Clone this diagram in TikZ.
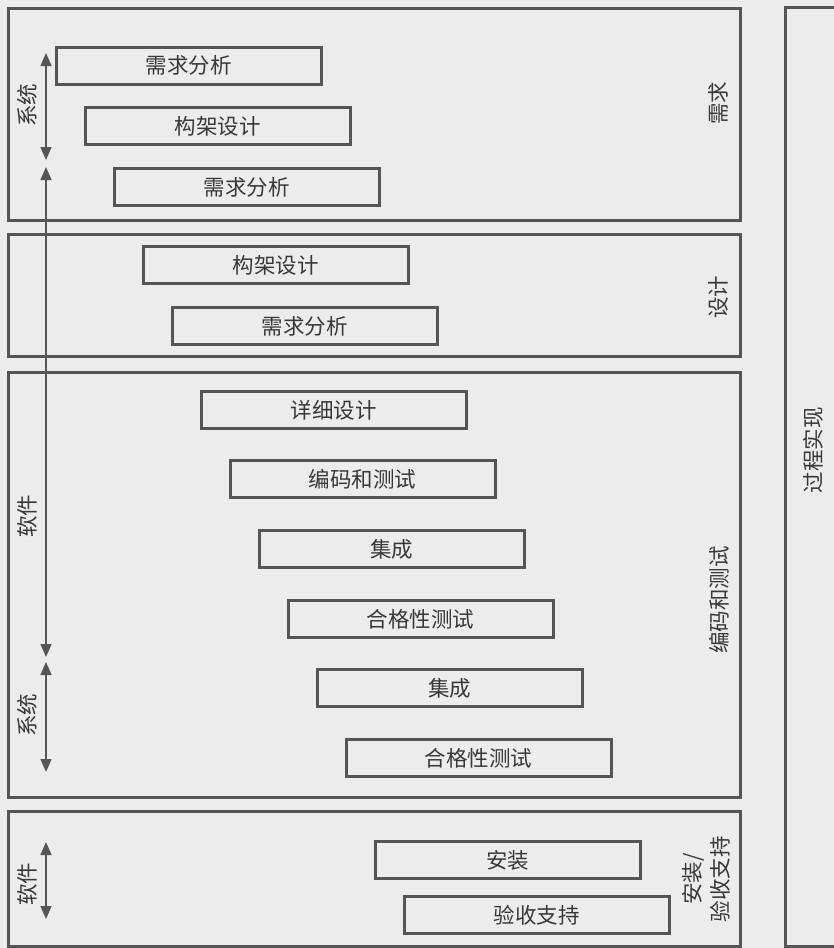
\documentclass[tikz,border=0pt]{standalone}
\usepackage{fontspec}
\newfontfamily\cjk{Noto Sans CJK SC}
\usetikzlibrary{arrows.meta}
\definecolor{bgcol}{HTML}{ECECEC}
\definecolor{linecol}{HTML}{555555}
\definecolor{txtcol}{HTML}{383838}
\tikzset{
  cjkfont/.style={font=\cjk\fontsize{21.5}{28}\selectfont, text=txtcol},
  stepbox/.style={cjkfont, draw=linecol, line width=3pt, minimum width=265pt, minimum height=37pt, inner sep=0pt},
  phasebox/.style={draw=linecol, line width=3pt, inner sep=0pt},
  sidelabel/.style={cjkfont, rotate=90, align=center, inner sep=0pt},
  scopearrow/.style={draw=linecol, line width=1.5pt, {Triangle[length=13pt,width=11pt]}-{Triangle[length=13pt,width=11pt]}}
}
\begin{document}
\begin{tikzpicture}[x=1pt,y=-1pt]
\path[use as bounding box, fill=bgcol] (0,0) rectangle (834,948);

% phase frames
\node[phasebox, minimum width=732pt, minimum height=212pt] (f1) at (374,114) {};
\node[phasebox, minimum width=732pt, minimum height=122pt] (f2) at (374,295.5) {};
\node[phasebox, minimum width=732pt, minimum height=425pt] (f3) at (374,584.5) {};
\node[phasebox, minimum width=732pt, minimum height=135pt] (f4) at (374,878.5) {};

% process frame (right edge runs off the picture)
\draw[linecol, line width=3pt] (845,7) -- (785,7) -- (785,946) -- (845,946);
\node[sidelabel] (proc) at (813,450) {过程实现};

% phase labels
\node[sidelabel] (l1) at (718,103) {需求};
\node[sidelabel] (l2) at (718,297) {设计};
\node[sidelabel] (l3) at (719,600) {编码和测试};
\node[sidelabel] (l4) at (706,879) {安装/\\验收支持};

% activity boxes
\node[stepbox] (b1) at (188.5,65.5) {需求分析};
\node[stepbox] (b2) at (217.5,126) {构架设计};
\node[stepbox] (b3) at (246.5,187) {需求分析};
\node[stepbox] (b4) at (275.5,265) {构架设计};
\node[stepbox] (b5) at (304.5,326) {需求分析};
\node[stepbox] (b6) at (333.5,410) {详细设计};
\node[stepbox] (b7) at (362.5,479) {编码和测试};
\node[stepbox] (b8) at (391.5,549) {集成};
\node[stepbox] (b9) at (420.5,619) {合格性测试};
\node[stepbox] (b10) at (449.5,688) {集成};
\node[stepbox] (b11) at (478.5,758) {合格性测试};
\node[stepbox] (b12) at (507.5,860) {安装};
\node[stepbox] (b13) at (536.5,915) {验收支持};

% level arrows
\coordinate (a1t) at (46,53);
\coordinate (a1b) at (46,160);
\coordinate (a2t) at (46,167);
\coordinate (a2b) at (46,657);
\coordinate (a3t) at (46,662);
\coordinate (a3b) at (46,772);
\coordinate (a4t) at (46,842);
\coordinate (a4b) at (46,919);
\draw[scopearrow] (a1t) -- (a1b);
\draw[scopearrow] (a2t) -- (a2b);
\draw[scopearrow] (a3t) -- (a3b);
\draw[scopearrow] (a4t) -- (a4b);

\node[sidelabel] (s1) at (27,105) {系统};
\node[sidelabel] (s2) at (27,516) {软件};
\node[sidelabel] (s3) at (27,715) {系统};
\node[sidelabel] (s4) at (27,884) {软件};
\end{tikzpicture}
\end{document}
